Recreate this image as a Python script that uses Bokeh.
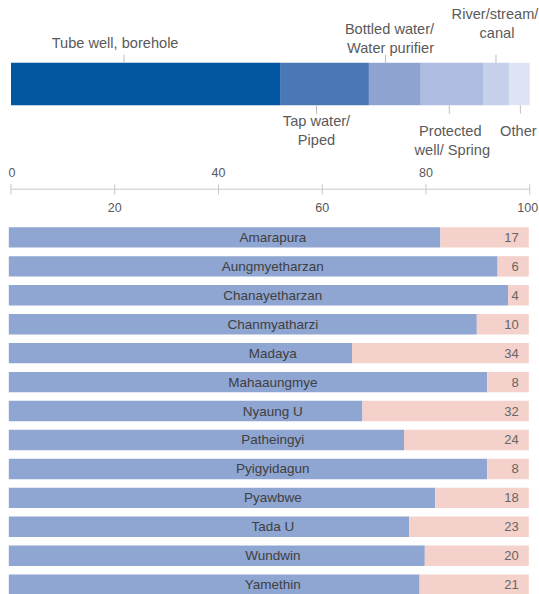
import numpy as np
from bokeh.plotting import figure
from bokeh.layouts import column
from bokeh.models import Range1d, ColumnDataSource
from bokeh.core.properties import value
from bokeh.embed import file_html
from bokeh.resources import INLINE

# ---------------- data ----------------
SOURCE_LINES = [
    ["Tube well, borehole"],
    ["Tap water/", "Piped"],
    ["Bottled water/", "Water purifier"],
    ["Protected", "well/ Spring"],
    ["River/stream/", "canal"],
    ["Other"],
]
SOURCE_SHARES = [52, 17, 10, 12, 5, 4]

TICKS = [0, 20, 40, 60, 80, 100]
TICK_LABELS = ["0", "20", "40", "60", "80", "100"]

DISTRICTS = ["Amarapura", "Aungmyetharzan", "Chanayetharzan", "Chanmyatharzi",
             "Madaya", "Mahaaungmye", "Nyaung U", "Patheingyi", "Pyigyidagun",
             "Pyawbwe", "Tada U", "Wundwin", "Yamethin"]
OTHER_PCT = [17, 6, 4, 10, 34, 8, 32, 24, 8, 18, 23, 20, 21]

# ---------------- style / layout ----------------
SOURCE_COLORS = ["#0257a0", "#4a78b7", "#8fa4d1", "#adbce0", "#c6d0eb", "#dee4f3"]
BLUE = "#8fa5d2"
PINK = "#f4d1ca"
FONT = "Liberation Sans"
W = 539
LABEL_SIDE = ["above", "below", "above", "below", "above", "below"]
LEADER_X = [21.8, 58.9, 72.2, 84.5, 93.5, 98.2]          # anchor along bar
LABEL_NEAR_Y = [42.5, 120.5, 47.3, 130.8, 32.2, 130.8]  # px in top figure
LINE_DX = [[-9], [0, 0], [4, 5], [1, 3], [-1, 1], [-2]]
LINE_H = 18.9
BAR_Y, BAR_H = 83.5, 42.5


def base_fig(h, x0, x1, y0, y1):
    p = figure(width=W, height=h, output_backend="svg", toolbar_location=None,
               x_range=Range1d(x0, x1), y_range=Range1d(y0, y1),
               min_border=0, min_border_left=0, min_border_right=0,
               min_border_top=0, min_border_bottom=0)
    p.axis.visible = False
    p.grid.visible = False
    p.outline_line_color = None
    p.background_fill_color = "white"
    p.border_fill_color = "white"
    return p


# ---------------- top stacked bar ----------------
HA = 160
pa = base_fig(HA, -2.024, 101.889, HA, 0)
ends = np.cumsum(SOURCE_SHARES)
starts = ends - np.array(SOURCE_SHARES)
pa.hbar(y=BAR_Y, left=starts, right=ends, height=BAR_H,
        fill_color=SOURCE_COLORS, line_color=None)

bar_top = BAR_Y - BAR_H / 2
bar_bot = BAR_Y + BAR_H / 2
lx, ly0, ly1 = [], [], []
tx, ty, tt, tdx = [], [], [], []
for i, lines in enumerate(SOURCE_LINES):
    x = LEADER_X[i]
    lx.append(x)
    if LABEL_SIDE[i] == "above":
        ly0.append(bar_top - 8); ly1.append(bar_top)
        n = len(lines)
        for j, line in enumerate(lines):
            tx.append(x); tt.append(line); tdx.append(LINE_DX[i][j])
            ty.append(LABEL_NEAR_Y[i] - (n - 1 - j) * LINE_H)
    else:
        ly0.append(bar_bot); ly1.append(bar_bot + 8.5)
        for j, line in enumerate(lines):
            tx.append(x); tt.append(line); tdx.append(LINE_DX[i][j])
            ty.append(LABEL_NEAR_Y[i] + j * LINE_H)

pa.segment(x0=lx, y0=ly0, x1=lx, y1=ly1, line_color="#bdbdbd", line_width=1)
pa.text(x=tx, y=ty, text=tt, x_offset=tdx, text_align="center",
        text_baseline="middle", text_font=value(FONT), text_font_size="14.6px",
        text_color="#5a5a5a")

# ---------------- axis strip ----------------
HB = 60
pb = base_fig(HB, -2.024, 101.889, HB, 0)
pb.segment(x0=[TICKS[0]], y0=[28.7], x1=[TICKS[-1]], y1=[28.7],
           line_color="#c8c8c8", line_width=1)
pb.segment(x0=TICKS, y0=[23.5] * len(TICKS), x1=TICKS, y1=[34] * len(TICKS),
           line_color="#c8c8c8", line_width=1)
ab = [i for i in range(len(TICKS)) if i % 2 == 0]
be = [i for i in range(len(TICKS)) if i % 2 == 1]
pb.text(x=[TICKS[i] for i in ab], y=[11.7] * len(ab),
        text=[TICK_LABELS[i] for i in ab], x_offset=[1, 0, 0],
        text_align="center", text_baseline="middle", text_font=value(FONT),
        text_font_size="12.5px", text_color="#595959")
pb.text(x=[TICKS[i] for i in be], y=[46.5] * len(be),
        text=[TICK_LABELS[i] for i in be], x_offset=[0, 0, -2],
        text_align="center", text_baseline="middle", text_font=value(FONT),
        text_font_size="12.5px", text_color="#595959")

# ---------------- district bars ----------------
HC = 594 - HA - HB
pc = base_fig(HC, -1.596, 102.058, 12.339, -0.584)
ys = list(range(len(DISTRICTS)))
other = np.array(OTHER_PCT)
main = 100 - other
src = ColumnDataSource(dict(y=ys, name=DISTRICTS, main=main, other=other,
                            full=[100] * len(ys), mid=[50] * len(ys),
                            lab=[str(v) for v in OTHER_PCT]))
pc.hbar(y="y", left=0, right="main", height=0.705, source=src,
        fill_color=BLUE, line_color=None)
pc.hbar(y="y", left="main", right="full", height=0.705, source=src,
        fill_color=PINK, line_color=None)
pc.text(x="mid", y="y", text="name", source=src, x_offset=4,
        text_align="center", text_baseline="middle", text_font=value(FONT),
        text_font_size="13.5px", text_color="#404040")
pc.text(x="full", y="y", text="lab", source=src, x_offset=-10,
        text_align="right", text_baseline="middle", text_font=value(FONT),
        text_font_size="13px", text_color="#666666")

layout = column(pa, pb, pc, spacing=0)
open("out.html", "w").write(file_html(layout, INLINE))
